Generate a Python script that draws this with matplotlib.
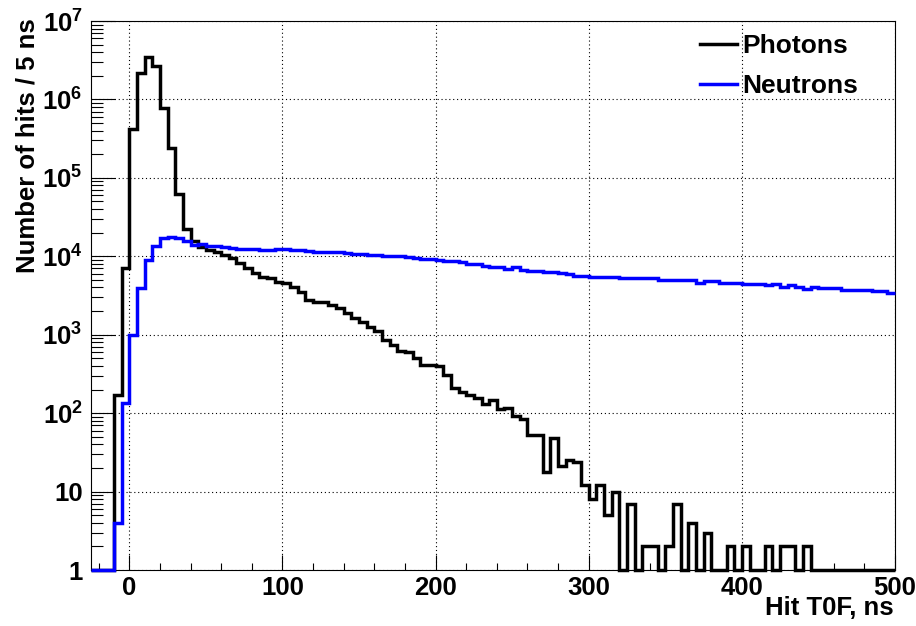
import numpy as np
import matplotlib
matplotlib.use("Agg")
import matplotlib.pyplot as plt
from matplotlib.ticker import FixedLocator, MultipleLocator, LogLocator, NullFormatter

plt.rcParams["font.family"] = ["Liberation Sans", "DejaVu Sans"]
plt.rcParams["font.weight"] = "bold"
plt.rcParams["mathtext.fontset"] = "custom"
plt.rcParams["mathtext.rm"] = "Liberation Sans:bold"
plt.rcParams["mathtext.bf"] = "Liberation Sans:bold"
plt.rcParams["mathtext.default"] = "bf"

# histogram binning: 5 ns bins from -25 to 500 ns
bin_lo, bin_hi, bin_w = -25, 500, 5

# counts per bin
photons = [
    0, 0, 0, 170, 7000, 420000, 2200000, 3500000, 2700000, 780000,
    240000, 63000, 22000, 15500, 13000, 12000, 11200, 10400, 9400, 8140,
    7030, 6070, 5500, 5240, 4750, 4520, 4100, 3540, 2770, 2630,
    2630, 2390, 2170, 1870, 1620, 1470, 1270, 1100, 860, 745,
    612, 595, 500, 414, 414, 400, 310, 208, 184, 172,
    154, 132, 148, 112, 118, 91, 84, 52, 53, 18,
    48, 21, 25, 24, 12, 8, 12, 5, 10, 0,
    7, 0, 2, 2, 0, 2, 7, 0, 4, 0,
    3, 0, 0, 2, 0, 2, 0, 0, 2, 0,
    2, 2, 0, 2, 0, 0, 0, 0, 0, 0,
    0, 0, 0, 0, 0,
]
neutrons = [
    0, 0, 0, 4, 135, 1000, 3950, 9000, 13500, 17000,
    17800, 17000, 15500, 14000, 14200, 13700, 13500, 13300, 12800, 12500,
    12400, 12300, 12100, 12000, 12500, 12500, 12100, 12000, 11600, 11300,
    11200, 11300, 11200, 10900, 10800, 10700, 10500, 10300, 10100, 10000,
    10000, 9900, 9400, 9350, 9100, 9050, 8700, 8600, 8400, 8000,
    7950, 7600, 7250, 7200, 6950, 7400, 6750, 6450, 6400, 6250,
    6250, 6200, 5950, 5550, 5550, 5500, 5500, 5500, 5450, 5300,
    5290, 5290, 5280, 5280, 4950, 4940, 4940, 4930, 4930, 4570,
    4800, 4780, 4610, 4610, 4600, 4480, 4480, 4470, 4260, 4480,
    4100, 4260, 4020, 3860, 4100, 3940, 3940, 3930, 3720, 3720,
    3710, 3700, 3570, 3560, 3400,
]

xticks = [0, 100, 200, 300, 400, 500]
yticks = [1, 10, 1e2, 1e3, 1e4, 1e5, 1e6, 1e7]
ytick_labels = ["1", "10", "$10^{2}$", "$10^{3}$", "$10^{4}$", "$10^{5}$", "$10^{6}$", "$10^{7}$"]

edges = np.arange(bin_lo, bin_hi + bin_w, bin_w)
ymin, ymax = 1, 1e7

fig = plt.figure(figsize=(9.16, 6.26), dpi=100)
ax = fig.add_axes([91 / 916, 1 - 570 / 626, (895 - 91) / 916, (570 - 21) / 626])

# empty bins sit on the frame bottom, as in ROOT
ph = np.clip(np.array(photons, dtype=float), ymin, None)
ne = np.clip(np.array(neutrons, dtype=float), ymin, None)
ax.stairs(ph, edges, baseline=None, color="black", linewidth=2.5, label="Photons", clip_on=False, zorder=3)
ax.stairs(ne, edges, baseline=None, color="#0000ff", linewidth=2.5, label="Neutrons", clip_on=False, zorder=4)

ax.set_yscale("log")
ax.set_xlim(bin_lo, bin_hi)
ax.set_ylim(ymin, ymax)

ax.xaxis.set_major_locator(FixedLocator(xticks))
ax.xaxis.set_minor_locator(MultipleLocator(20))
ax.set_xticklabels([str(v) for v in xticks])
ax.yaxis.set_major_locator(FixedLocator(yticks))
ax.set_yticklabels(ytick_labels)
ax.yaxis.set_minor_locator(LogLocator(base=10, subs=np.arange(2, 10), numticks=20))
ax.yaxis.set_minor_formatter(NullFormatter())

ax.tick_params(axis="both", which="both", direction="in", top=False, right=False,
               width=0.8, colors="black", labelsize=18.5)
ax.tick_params(axis="y", which="major", length=17, pad=6)
ax.tick_params(axis="y", which="minor", length=8.5)
ax.tick_params(axis="x", which="major", length=11, pad=4)
ax.tick_params(axis="x", which="minor", length=5)

ax.grid(True, which="major", color="black", linestyle=(0, (1, 2.5)), linewidth=0.8)
ax.set_axisbelow(True)
for s in ax.spines.values():
    s.set_linewidth(0.8)

fig.text(28 / 916, 1 - 18 / 626, "Number of hits / 5 ns", rotation=90,
         ha="center", va="top", fontsize=18.5, fontweight="bold")
fig.text(894 / 916, 1 - 608 / 626, "Hit T0F, ns", ha="right", va="center",
         fontsize=18.5, fontweight="bold")

leg = ax.legend(loc="upper left", bbox_to_anchor=(700 / 916, 1 - 34 / 626),
                bbox_transform=fig.transFigure, frameon=False, fontsize=19,
                handlelength=1.4, handletextpad=0.2, labelspacing=0.6,
                borderpad=0, borderaxespad=0)

fig.savefig("out.png", dpi=100)
